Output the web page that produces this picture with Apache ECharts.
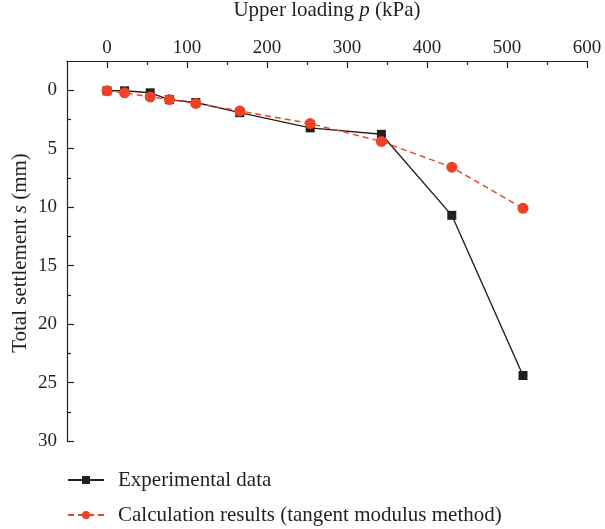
<!DOCTYPE html>
<html>
<head>
<meta charset="utf-8">
<script src="https://cdn.jsdelivr.net/npm/echarts@6/dist/echarts.min.js"></script>
<style>
  html, body { margin: 0; padding: 0; background: #fff; }
  #chart { width: 605px; height: 529px; }
</style>
</head>
<body>
<div id="chart"></div>
<script>
// Upper loading p (kPa)
const loading = [0, 22, 54, 78, 111, 166, 254, 343, 431, 520];
// Measured settlement s (mm)
const experimental = [0.05, 0.05, 0.22, 0.8, 1.05, 1.92, 3.22, 3.77, 10.7, 24.4];
// Tangent modulus method settlement s (mm)
const calculated = [0.05, 0.22, 0.57, 0.8, 1.13, 1.77, 2.85, 4.38, 6.58, 10.1];

const xMajor = [0, 100, 200, 300, 400, 500, 600];
const xMinor = [50, 150, 250, 350, 450, 550];
const yMajor = [0, 5, 10, 15, 20, 25, 30];
const yMinor = [2.5, 7.5, 12.5, 17.5, 22.5, 27.5];

const ink = '#231f20';
const red = '#ef4123';
const font = 'Liberation Serif';
const italic = { fontStyle: 'italic', fontFamily: font, fontSize: 21, color: ink };

const pairs = (ys) => loading.map((x, i) => [x, ys[i]]);

const tickLine = { color: ink, width: 1.2 };

const chart = echarts.init(document.getElementById('chart'));
chart.setOption({
  animation: false,
  textStyle: { fontFamily: font, color: ink },
  grid: { left: 67, top: 61, right: 18, bottom: 88, containLabel: false, outerBoundsMode: 'none' },
  xAxis: [{
    type: 'value', position: 'top', min: -50, max: 600,
    name: 'Upper loading {i|p} (kPa)', nameLocation: 'middle', nameGap: 40,
    nameTextStyle: { fontFamily: font, fontSize: 21, color: ink, rich: { i: italic } },
    axisLine: { show: true, onZero: false, lineStyle: tickLine },
    axisTick: { show: true, inside: true, length: 7, customValues: xMajor, lineStyle: tickLine },
    axisLabel: { customValues: xMajor, fontFamily: font, fontSize: 19, color: ink, margin: 3 },
    splitLine: { show: false }
  }, {
    type: 'value', position: 'top', min: -50, max: 600,
    axisLine: { show: false, onZero: false },
    axisTick: { show: true, inside: true, length: 4, customValues: xMinor, lineStyle: tickLine },
    axisLabel: { show: false },
    splitLine: { show: false }
  }],
  yAxis: [{
    type: 'value', inverse: true, min: -2.5, max: 30,
    axisLine: { show: true, onZero: false, lineStyle: tickLine },
    axisTick: { show: true, inside: true, length: 7, customValues: yMajor, lineStyle: tickLine },
    axisLabel: { customValues: yMajor, fontFamily: font, fontSize: 19, color: ink, margin: 10 },
    splitLine: { show: false }
  }, {
    type: 'value', inverse: true, min: -2.5, max: 30, position: 'left',
    axisLine: { show: false, onZero: false },
    axisTick: { show: true, inside: true, length: 4, customValues: yMinor, lineStyle: tickLine },
    axisLabel: { show: false },
    splitLine: { show: false }
  }],
  graphic: [{
    type: 'text', x: 20, y: 253, rotation: Math.PI / 2,
    style: {
      text: 'Total settlement {i|s} (mm)',
      fontFamily: font, fontSize: 21, fill: ink,
      align: 'center', verticalAlign: 'middle',
      rich: { i: italic }
    }
  }],
  legend: {
    orient: 'vertical', left: 67, top: 469, padding: 0,
    itemWidth: 36, itemHeight: 10, itemGap: 13,
    textStyle: { fontFamily: font, fontSize: 21, color: ink, lineHeight: 22, padding: [0, 0, 0, 9] },
    data: ['Experimental data', 'Calculation results (tangent modulus method)']
  },
  series: [{
    name: 'Experimental data', type: 'line', xAxisIndex: 0, yAxisIndex: 0,
    data: pairs(experimental),
    symbol: 'rect', symbolSize: 9,
    lineStyle: { color: ink, width: 1.4 },
    itemStyle: { color: ink },
    z: 2
  }, {
    name: 'Calculation results (tangent modulus method)', type: 'line', xAxisIndex: 0, yAxisIndex: 0,
    data: pairs(calculated),
    symbol: 'circle', symbolSize: 11,
    lineStyle: { color: red, width: 1.4, type: [6, 4] },
    itemStyle: { color: red },
    z: 3
  }]
});
</script>
</body>
</html>
